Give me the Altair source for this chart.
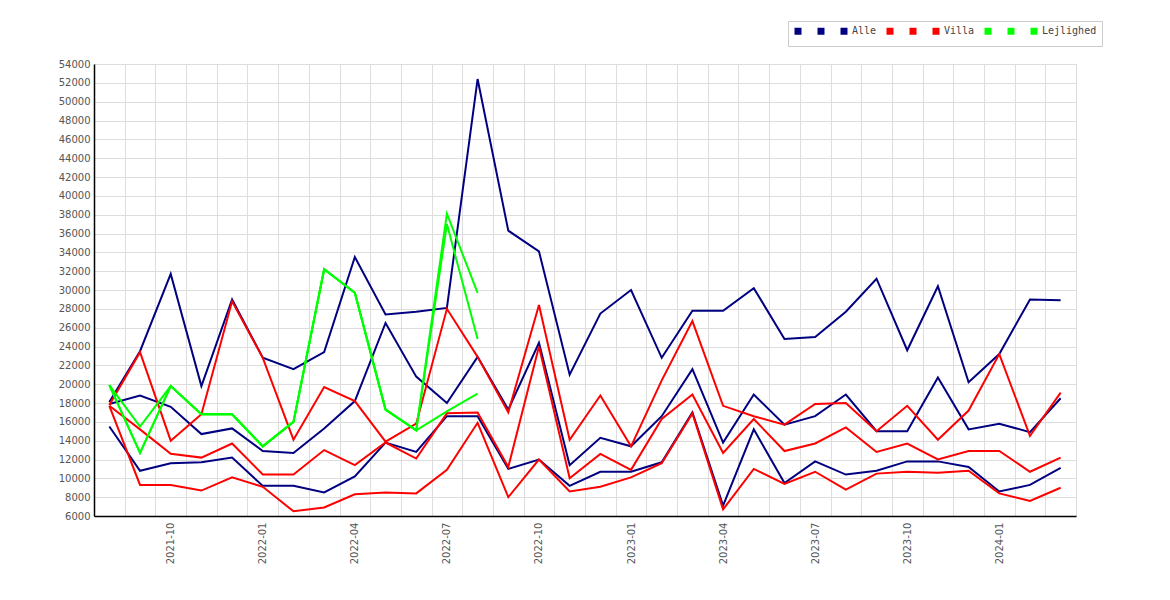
import altair as alt
import pandas as pd

months = ["2021-08", "2021-09", "2021-10", "2021-11", "2021-12",
          "2022-01", "2022-02", "2022-03", "2022-04", "2022-05", "2022-06",
          "2022-07", "2022-08", "2022-09", "2022-10", "2022-11", "2022-12",
          "2023-01", "2023-02", "2023-03", "2023-04", "2023-05", "2023-06",
          "2023-07", "2023-08", "2023-09", "2023-10", "2023-11", "2023-12",
          "2024-01", "2024-02", "2024-03"]

alle_hi = [18100, 23500, 31700, 19800, 29000, 22800, 21600, 23400, 33500, 27400, 27700,
           28100, 52400, 36300, 34100, 21000, 27500, 30000, 22800, 27800, 27800, 30200,
           24800, 25000, 27700, 31200, 23600, 30400, 20200, 23200, 29000, 28900]
alle_mid = [17900, 18800, 17600, 14700, 15300, 12900, 12700, 15300, 18200, 26500, 20800,
            18000, 22900, 17300, 24400, 11400, 14300, 13400, 16600, 21600, 13800, 18900,
            15700, 16600, 18900, 15000, 15000, 20700, 15200, 15800, 14900, 18500]
alle_lo = [15500, 10800, 11600, 11700, 12200, 9200, 9200, 8500, 10200, 13800, 12800,
           16600, 16600, 11000, 12000, 9200, 10700, 10700, 11700, 17000, 7100, 15200,
           9500, 11800, 10400, 10800, 11800, 11800, 11200, 8600, 9300, 11100]

villa_hi = [17800, 23400, 14000, 16800, 28800, 22800, 14100, 19700, 18200, 13900, 15800,
            28000, 22900, 17000, 28400, 14100, 18800, 13400, 20400, 26700, 17700, 16600,
            15700, 17900, 18000, 15000, 17700, 14100, 17200, 23200, 14500, 19100]
villa_mid = [17700, 15200, 12600, 12200, 13700, 10400, 10400, 13000, 11400, 13800, 12100,
             16900, 17000, 11200, 24000, 10000, 12600, 10900, 16300, 18900, 12700, 16300,
             12900, 13700, 15400, 12800, 13700, 12000, 12900, 12900, 10700, 12200]
villa_lo = [17700, 9300, 9300, 8700, 10100, 9100, 6500, 6900, 8300, 8500, 8400,
            10900, 15900, 8000, 12000, 8600, 9100, 10100, 11600, 16900, 6700, 11000,
            9400, 10700, 8800, 10500, 10700, 10600, 10800, 8400, 7600, 9000]

lejl_hi = [19900, 15500, 19800, 16800, 16800, 13400, 16000, 32200, 29700, 17300, 15100,
           38100, 29700]
lejl_mid = [19900, 12700, 19800, 16800, 16800, 13400, 16000, 32200, 29700, 17300, 15100,
            37000, 24800]
lejl_lo = [19900, 12700, 19800, 16800, 16800, 13400, 16000, 32200, 29700, 17300, 15100,
           17100, 19000]

series_names = ["Alle_a", "Alle_b", "Alle", "Villa_a", "Villa_b", "Villa",
                "Lejlighed_a", "Lejlighed_b", "Lejlighed"]
series_values = [alle_hi, alle_mid, alle_lo, villa_hi, villa_mid, villa_lo,
                 lejl_hi, lejl_mid, lejl_lo]
series_colors = ["#000080", "#000080", "#000080", "#ff0000", "#ff0000", "#ff0000",
                 "#00ff00", "#00ff00", "#00ff00"]

y_ticks = list(range(6000, 54001, 2000))

rows = []
for order, (name, vals) in enumerate(zip(series_names, series_values)):
    for m, v in zip(months, vals):
        rows.append({"month": m, "value": v, "series": name, "ord": order})
df = pd.DataFrame(rows)

x_enc = alt.X(
    "month:O",
    sort=months,
    scale=alt.Scale(type="band", domain=months, paddingInner=0, paddingOuter=0),
    axis=alt.Axis(
        title=None, ticks=False, tickBand="extent", grid=True,
        gridColor="#dddddd", gridWidth=1, domainColor="#000000", domainWidth=1.5,
        labelAngle=270, labelPadding=6, labelColor="#555555",
        labelFont="DejaVu Sans", labelFontSize=10,
        labelExpr="indexof(['01','04','07','10'], slice(datum.label, 5)) >= 0 ? datum.label : ''",
    ),
)
y_enc = alt.Y(
    "value:Q",
    scale=alt.Scale(domain=[6000, 54000], nice=False, zero=False),
    axis=alt.Axis(
        title=None, ticks=False, values=y_ticks, grid=True, format="d",
        labelOverlap=False, labelFlush=False,
        gridColor="#dddddd", gridWidth=1, domainColor="#000000", domainWidth=1.5,
        labelPadding=4, labelColor="#555555", labelFont="DejaVu Sans",
        labelFontSize=10,
    ),
)
legend = alt.Legend(
    title=None, orient="none", legendX=694, legendY=-43,
    direction="horizontal", columns=9,
    symbolType="square", symbolSize=9, symbolStrokeWidth=4,
    symbolFillColor="transparent",
    labelFont="DejaVu Sans Mono", labelFontSize=10,
    labelColor="#444444", labelOffset=3, columnPadding=3,
    strokeColor="#cccccc", padding=5,
    labelExpr="indexof(datum.label, '_') >= 0 ? ' ' : datum.label",
)

lines = alt.Chart(df).mark_line(strokeWidth=2).encode(
    x=x_enc,
    y=y_enc,
    color=alt.Color("series:N",
                    scale=alt.Scale(domain=series_names, range=series_colors),
                    legend=legend),
    detail="series:N",
    order="ord:Q",
)

chart = lines.properties(
    width=982, height=452,
    autosize=alt.AutoSizeParams(type="none"),
    padding={"left": 86, "top": 56, "right": 86, "bottom": 76},
).configure_view(strokeWidth=0).configure(background="white")

chart.save("out.html", embed_options={"renderer": "svg", "actions": False})
